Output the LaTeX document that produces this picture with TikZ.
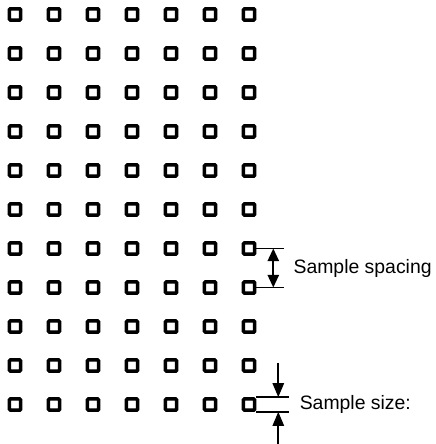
\documentclass[tikz,border=0pt]{standalone}
\usepackage{fontspec}
\setmainfont{Liberation Sans}
\usetikzlibrary{arrows.meta,positioning}

\begin{document}
\begin{tikzpicture}[
  x=0.025cm, y=-0.025cm,
  cell/.style={draw, line width=2.4pt, minimum size=0.28cm, inner sep=0pt, rounded corners=0.6pt},
  dim/.style={line width=1.4pt},
  arr/.style={-{Triangle[length=10pt, width=8pt]}, line width=1.4pt},
  dblarr/.style={{Triangle[length=9pt, width=8pt]}-{Triangle[length=9pt, width=8pt]}, line width=1.4pt},
  lbl/.style={font=\fontsize{13.8}{16}\selectfont, inner sep=0pt}
]
  \useasboundingbox (0,0) rectangle (435,444);

  % grid of samples
  \foreach \r in {1,...,11}
    \foreach \c in {1,...,7}
      \node[cell] (s-\r-\c) at ({15+39*(\c-1)}, {14.5+39*(\r-1)}) {};

  % sample spacing
  \draw[dim] (s-7-7.east) -- ++(17,0) coordinate (sp-top) -- ++(11,0);
  \draw[dim] (s-8-7.east) -- ++(17,0) coordinate (sp-bot) -- ++(11,0);
  \draw[dblarr] (sp-top) -- coordinate (sp-mid) (sp-bot);
  \node[lbl, right=0.5cm of sp-mid] (sp-text) {Sample spacing};

  % sample size
  \draw[dim] (s-11-7.north east) -- ++(22,0) coordinate (sz-top) -- ++(11,0);
  \draw[dim] (s-11-7.south east) -- ++(22,0) coordinate (sz-bot) -- ++(11,0);
  \coordinate[above=0.85cm of sz-top] (sz-from);
  \coordinate[below=0.85cm of sz-bot] (sz-to);
  \draw[arr] (sz-from) -- (sz-top);
  \draw[arr] (sz-to) -- (sz-bot);
  \path (sz-top) -- coordinate (sz-mid) (sz-bot);
  \node[lbl, right=0.53cm of sz-mid] (sz-text) {Sample size:};
\end{tikzpicture}
\end{document}
